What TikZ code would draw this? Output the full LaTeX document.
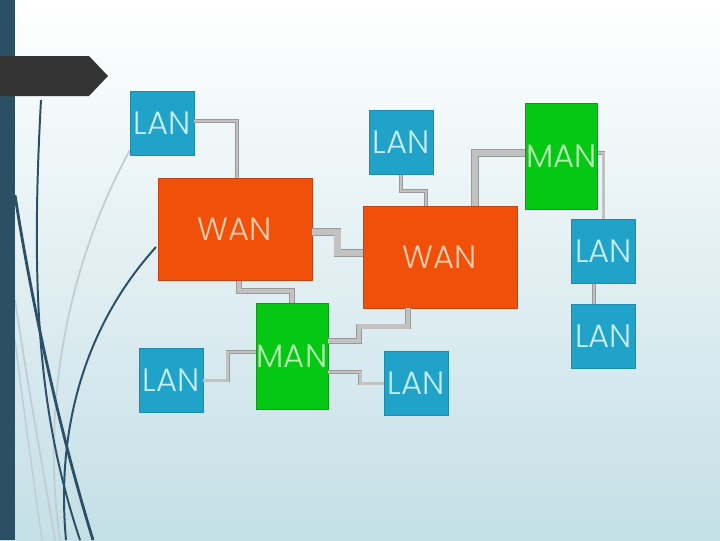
\documentclass[tikz,border=0pt]{standalone}
\usepackage{fontspec}
\setsansfont{Poppins Light}
\usetikzlibrary{positioning}
\definecolor{lanblue}{HTML}{21A3C9}
\definecolor{lanedge}{HTML}{1B8BB0}
\definecolor{lantext}{HTML}{C4EDF6}
\definecolor{wanorange}{HTML}{F0500A}
\definecolor{wanedge}{HTML}{C04414}
\definecolor{wantext}{HTML}{F9CDAE}
\definecolor{mangreen}{HTML}{05C814}
\definecolor{manedge}{HTML}{109A1A}
\definecolor{mantext}{HTML}{B8F2B4}
\definecolor{pipefill}{HTML}{C2C2C2}
\definecolor{pipeedge}{HTML}{999999}
\definecolor{barblue}{HTML}{2B5066}
\definecolor{tagdark}{HTML}{333333}
\definecolor{bgbottom}{HTML}{C4DFE6}
\definecolor{swirlgray}{HTML}{BFCDD3}
\tikzset{
  box/.style = {draw, line width=0.6pt, inner sep=0pt,
    font=\sffamily\fontsize{23}{27}\selectfont},
  lan/.style = {box, fill=lanblue, draw=lanedge, text=lantext,
    minimum width=1.6cm, minimum height=1.6cm},
  wan/.style = {box, fill=wanorange, draw=wanedge, text=wantext,
    minimum width=3.85cm, minimum height=2.55cm},
  man/.style = {box, fill=mangreen, draw=manedge, text=mantext,
    minimum width=1.8cm, minimum height=2.65cm},
  pipe/.style = {draw=pipeedge, line width=0.5pt, double=pipefill,
    double distance=1.8pt},
  midpipe/.style = {pipe, double distance=3pt},
  fatpipe/.style = {pipe, double distance=4.4pt}
}

\begin{document}
\begin{tikzpicture}[x=0.025cm,y=-0.025cm]
  \useasboundingbox (0,0) rectangle (720,540);
  % background and slide decoration
  \shade[top color=white, bottom color=bgbottom] (0,0) rectangle (720,540);
  \draw[swirlgray, line width=1.2pt] (130,150) .. controls (70,260) and (40,400) .. (60,540);
  \draw[swirlgray, line width=1.2pt] (15,300) .. controls (30,400) and (45,480) .. (55,540);
  \draw[swirlgray, line width=1pt] (15,340) .. controls (25,420) and (35,490) .. (42,540);
  \draw[barblue, line width=1.4pt] (41,100) .. controls (30,300) and (40,420) .. (80,540);
  \draw[barblue, line width=2pt] (15,195) .. controls (25,260) and (50,400) .. (93,540);
  \draw[barblue, line width=1.4pt] (156,247) .. controls (90,320) and (55,420) .. (66,540);
  \fill[barblue] (0,0) rectangle (15,540);
  \fill[tagdark] (0,56) -- (89,56) -- (108,76) -- (89,96) -- (0,96) -- cycle;

  % networks
  \node[lan] (lan1) at (162,123) {LAN};
  \node[lan] (lan2) at (401,142.5) {LAN};
  \node[man] (mant) at (561.5,156) {MAN};
  \node[wan] (wanl) at (235,229.5) {WAN};
  \node[wan] (wanr) at (440,257) {WAN};
  \node[lan] (lanr1) at (603.5,251.5) {LAN};
  \node[lan, below=0.5cm of lanr1] (lanr2) {LAN};
  \node[man] (manb) at (292,356.5) {MAN};
  \node[lan] (lanbl) at (171,380.5) {LAN};
  \node[lan] (lanbm) at (416,383.5) {LAN};

  % links
  \draw[pipe] ([yshift=0.05cm]lan1.east) -| ([xshift=0.05cm]wanl.north);
  \draw[pipe] (lan2.south) -- ++(0,16) -| ([xshift=-0.35cm]wanr.north);
  \draw[fatpipe] ([yshift=0.07cm]mant.west) -| ([xshift=0.875cm]wanr.north);
  \draw[pipe] ([yshift=0.07cm]mant.east) -| (lanr1.north);
  \draw[pipe] ([xshift=-0.24cm]lanr1.south) -- ([xshift=-0.24cm]lanr2.north);
  \draw[fatpipe] ([yshift=-0.06cm]wanl.east) -- ++(25,0) |- ([yshift=0.1cm]wanr.west);
  \draw[midpipe] ([xshift=0.1cm]wanl.south) -- ++(0,10) -| (manb.north);
  \draw[midpipe] ([xshift=-0.8cm]wanr.south) -- ++(0,18) -- ++(-49,0)
    |- ([yshift=0.39cm]manb.east);
  \draw[pipe] ([yshift=-0.39cm]manb.east) -- ++(32,0) |- (lanbm.west);
  \draw[pipe] ([yshift=0.11cm]manb.west) -- ++(-28,0) |- (lanbl.east);
\end{tikzpicture}
\end{document}
